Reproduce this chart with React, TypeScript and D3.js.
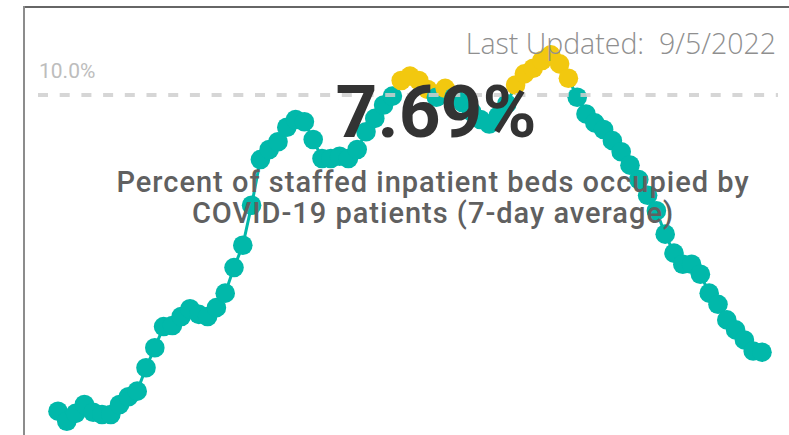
import React, { useEffect, useRef } from "react";
import * as d3 from "d3";

// 7-day average, % of staffed inpatient beds occupied by COVID-19 patients
const occupancy = [
  7.16, 7.07, 7.14, 7.22, 7.15, 7.13, 7.13, 7.22, 7.29, 7.34,
  7.55, 7.73, 7.92, 7.93, 8.01, 8.08, 8.03, 8.01, 8.09, 8.22,
  8.45, 8.65, 9.01, 9.42, 9.51, 9.58, 9.71, 9.78, 9.76, 9.6,
  9.43, 9.43, 9.45, 9.43, 9.51, 9.67, 9.79, 9.91, 9.99, 10.13,
  10.17, 10.13, 10.05, 9.98, 10.06, 9.98, 9.93, 9.85, 9.78, 9.74,
  9.81, 9.92, 10.09, 10.19, 10.24, 10.31, 10.36, 10.28, 10.15, 9.98,
  9.83, 9.75, 9.69, 9.59, 9.49, 9.37, 9.24, 9.1, 8.96, 8.75,
  8.58, 8.48, 8.48, 8.39, 8.22, 8.12, 7.98, 7.89, 7.8, 7.7,
  7.69,
];
const threshold = 10;
const thresholdLabel = "10.0%";
const lastUpdated = "Last Updated:  9/5/2022";
const subtitleLines = [
  "Percent of staffed inpatient beds occupied by",
  "COVID-19 patients (7-day average)",
];

const W = 789;
const H = 435;

export default function App() {
  const ref = useRef<SVGSVGElement>(null);

  useEffect(() => {
    const svg = d3.select(ref.current);
    svg.selectAll("*").remove();

    const x = d3.scaleLinear().domain([0, occupancy.length - 1]).range([58, 762]);
    const y = d3.scaleLinear().domain([7, 10]).range([429, 95]);

    // card frame
    svg.append("line").attr("x1", 24).attr("x2", W).attr("y1", 7).attr("y2", 7)
      .attr("stroke", "#666").attr("stroke-width", 2);
    svg.append("line").attr("x1", 24).attr("x2", 24).attr("y1", 6).attr("y2", H)
      .attr("stroke", "#8c8c8c").attr("stroke-width", 2);

    const line = d3.line<number>().x((d, i) => x(i)).y(d => y(d));
    svg.append("path").datum(occupancy)
      .attr("fill", "none").attr("stroke", "#01B8AA").attr("stroke-width", 3)
      .attr("d", line);

    svg.append("g").selectAll("circle").data(occupancy).join("circle")
      .attr("cx", (d, i) => x(i))
      .attr("cy", d => y(d))
      .attr("r", 9.8)
      .attr("fill", d => (d > threshold ? "#F2C80F" : "#01B8AA"));

    // target line
    svg.append("line")
      .attr("x1", 38).attr("x2", 778)
      .attr("y1", y(threshold)).attr("y2", y(threshold))
      .attr("stroke", "#cfcfcf").attr("stroke-opacity", 0.85)
      .attr("stroke-width", 4).attr("stroke-dasharray", "10 11.7");

    svg.append("text")
      .attr("x", 39).attr("y", y(threshold) - 17)
      .style("font-family", "Roboto, sans-serif").style("font-size", "21px")
      .style("fill", "#bdbdbd")
      .text(thresholdLabel);

    svg.append("text")
      .attr("x", 776).attr("y", 54)
      .attr("text-anchor", "end")
      .style("white-space", "pre")
      .style("font-family", "'Open Sans', sans-serif").style("font-weight", 300)
      .style("font-size", "28.5px").style("fill", "#8f8f8f")
      .text(lastUpdated);

    svg.append("text")
      .attr("x", 436).attr("y", 137)
      .attr("text-anchor", "middle")
      .style("font-family", "Roboto, sans-serif").style("font-weight", 700)
      .style("font-size", "73px").style("fill", "#333")
      .text(d3.format(".2f")(occupancy[occupancy.length - 1]) + "%");

    svg.append("g").selectAll("text").data(subtitleLines).join("text")
      .attr("x", 433).attr("y", (d, i) => 192 + i * 31)
      .attr("text-anchor", "middle")
      .style("font-family", "Roboto, sans-serif").style("font-weight", 500)
      .style("font-size", "29px").style("letter-spacing", "1px")
      .style("fill", "#606060")
      .text(d => d);
  }, []);

  return (
    <svg ref={ref} width={W} height={H}
      style={{ position: "absolute", left: 0, top: 0, background: "#fff" }} />
  );
}
